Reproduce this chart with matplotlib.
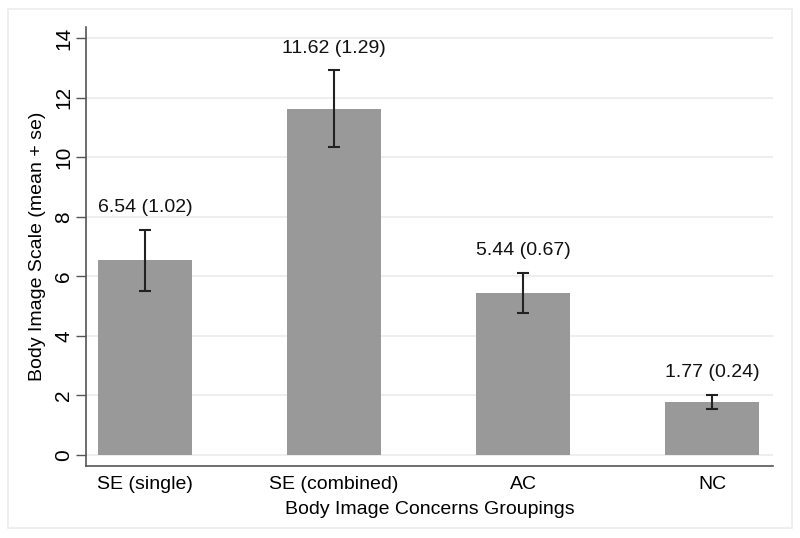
import numpy as np
import matplotlib
matplotlib.use("Agg")
import matplotlib.pyplot as plt
from matplotlib.patches import Rectangle

groups = ["SE (single)", "SE (combined)", "AC", "NC"]
means = [6.54, 11.62, 5.44, 1.77]
ses = [1.02, 1.29, 0.67, 0.24]
yticks = [0, 2, 4, 6, 8, 10, 12, 14]

plt.rcParams['font.family'] = ['Liberation Sans', 'DejaVu Sans']

fig = plt.figure(figsize=(8, 5.38), dpi=100)
ax = fig.add_axes([0.1075, 0.1338, 0.8588, 0.816])

# light frame around the whole graph, like Stata's graph region
fig.patches.append(Rectangle((0.01, 0.018), 0.98, 0.966, transform=fig.transFigure,
                             fill=False, edgecolor='#ececec', linewidth=1.2))

x = np.arange(len(groups))
ax.bar(x, means, width=0.5, color='#999999', zorder=2)
ax.errorbar(x, means, yerr=ses, fmt='none', ecolor='#222222', elinewidth=1.5,
            capsize=4, capthick=1.5, zorder=3)

for xi, m, s in zip(x, means, ses):
    ax.text(xi, m + s + 0.75, f"{m:.2f} ({s:.2f})", ha='center', va='center',
            fontsize=14, color='#111111')

ax.set_xlim(-0.312, 3.323)
ax.set_ylim(-0.37, 14.37)
ax.set_yticks(yticks)
ax.set_xticks(x)
ax.set_xticklabels(groups, fontsize=14)
ax.tick_params(axis='x', length=0, pad=7)
ax.tick_params(axis='y', length=7, width=1, color='#555555', labelsize=15, pad=2)
for lab in ax.get_yticklabels():
    lab.set_rotation(90)
    lab.set_va('center')

ax.yaxis.grid(True, color='#ebebeb', linewidth=1.2, zorder=0)
ax.set_axisbelow(True)
for side in ['top', 'right']:
    ax.spines[side].set_visible(False)
for side in ['left', 'bottom']:
    ax.spines[side].set_color('#555555')
    ax.spines[side].set_linewidth(1.2)

ax.set_xlabel('Body Image Concerns Groupings', fontsize=14, labelpad=6)
ax.set_ylabel('Body Image Scale (mean + se)', fontsize=14, labelpad=6)

fig.savefig('out.png', dpi=100, facecolor='white')
plt.close(fig)
